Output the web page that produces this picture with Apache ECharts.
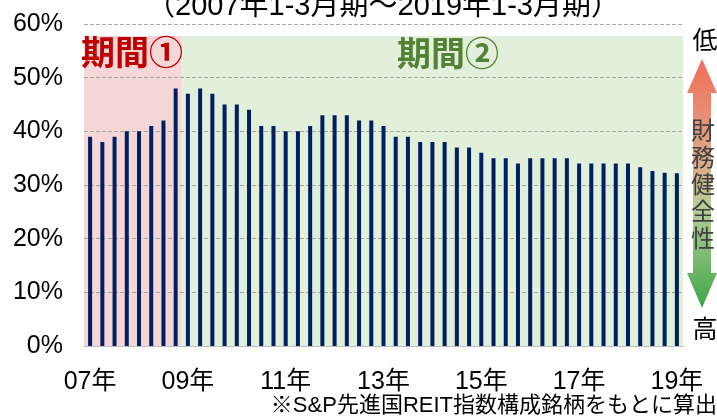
<!DOCTYPE html>
<html>
<head>
<meta charset="utf-8">
<script src="https://cdn.jsdelivr.net/npm/echarts@6/dist/echarts.min.js"></script>
<style>
  html, body { margin: 0; padding: 0; background: #fff; }
  #main { width: 717px; height: 416px; }
</style>
</head>
<body>
<div id="main"></div>
<script>
// 四半期（2007年1-3月期～2019年1-3月期）
var quarters = [
  '07/1Q','07/2Q','07/3Q','07/4Q','08/1Q','08/2Q','08/3Q','08/4Q',
  '09/1Q','09/2Q','09/3Q','09/4Q','10/1Q','10/2Q','10/3Q','10/4Q',
  '11/1Q','11/2Q','11/3Q','11/4Q','12/1Q','12/2Q','12/3Q','12/4Q',
  '13/1Q','13/2Q','13/3Q','13/4Q','14/1Q','14/2Q','14/3Q','14/4Q',
  '15/1Q','15/2Q','15/3Q','15/4Q','16/1Q','16/2Q','16/3Q','16/4Q',
  '17/1Q','17/2Q','17/3Q','17/4Q','18/1Q','18/2Q','18/3Q','18/4Q',
  '19/1Q'
];
// 負債比率（%）
var ratio = [
  39, 38, 39, 40, 40, 41, 42, 48,
  47, 48, 47, 45, 45, 44, 41, 41,
  40, 40, 41, 43, 43, 43, 42, 42,
  41, 39, 39, 38, 38, 38, 37, 37,
  36, 35, 35, 34, 35, 35, 35, 35,
  34, 34, 34, 34, 34, 33.3, 32.6, 32.3,
  32.2
];
var yearLabels = ['07年', '09年', '11年', '13年', '15年', '17年', '19年'];
var period1Quarters = 8; // 期間①: 07/1Q～08/4Q

var FONT = "'Liberation Sans', 'Noto Sans CJK JP', sans-serif";
var myChart = echarts.init(document.getElementById('main'));

var option = {
  animation: false,
  grid: { left: 84, right: 34, top: 24, bottom: 70 },
  xAxis: {
    type: 'category',
    data: quarters,
    boundaryGap: true,
    axisLine: { lineStyle: { color: '#bfbfbf' } },
    axisTick: { alignWithLabel: true, interval: 7, length: 6, lineStyle: { color: '#a6a6a6' } },
    axisLabel: {
      interval: 7,
      margin: 24,
      color: '#000',
      fontSize: 25,
      fontFamily: FONT,
      formatter: function (v, i) { return yearLabels[i / 8]; }
    }
  },
  yAxis: {
    type: 'value',
    min: 0,
    max: 60,
    interval: 10,
    axisLine: { show: false },
    axisTick: { show: false },
    axisLabel: { formatter: '{value}%', margin: 21, color: '#000', fontSize: 25, fontFamily: FONT },
    splitLine: { lineStyle: { color: '#a6a6a6', type: [4, 2], width: 1 } }
  },
  series: [{
    name: '負債比率',
    type: 'bar',
    data: ratio,
    barWidth: 4,
    itemStyle: { color: '#002060' },
    z: 3
  }]
};
myChart.setOption(option);

// 背景の期間エリア（軸から位置を算出）
var px0 = myChart.convertToPixel({ xAxisIndex: 0 }, 0);
var px1 = myChart.convertToPixel({ xAxisIndex: 0 }, 1);
var band = px1 - px0;
var xStart = px0 - band / 2;
var xSplit = myChart.convertToPixel({ xAxisIndex: 0 }, period1Quarters) - band / 2;
var xEnd = myChart.convertToPixel({ xAxisIndex: 0 }, quarters.length - 1) + band / 2;
var yBase = myChart.convertToPixel({ yAxisIndex: 0 }, 0);
var yTop = 36;

myChart.setOption({
  graphic: [
    { type: 'rect', z: -10, silent: true,
      shape: { x: xStart, y: yTop, width: xSplit - xStart, height: yBase - yTop },
      style: { fill: '#f6d7d7' } },
    { type: 'rect', z: -10, silent: true,
      shape: { x: xSplit, y: yTop, width: xEnd - xSplit, height: yBase - yTop },
      style: { fill: '#e2efda' } },
    { type: 'text', x: 383, y: 7,
      style: { text: '（2007年1-3月期～2019年1-3月期）', fill: '#000', font: '29px ' + FONT,
               textAlign: 'center', textVerticalAlign: 'middle' } },
    { type: 'text', x: 81, y: 56, z: 5,
      style: { text: '期間①', fill: '#c00000', font: 'bold 34px ' + FONT,
               textAlign: 'left', textVerticalAlign: 'middle' } },
    { type: 'text', x: 397, y: 57, z: 5,
      style: { text: '期間②', fill: '#538135', font: 'bold 34px ' + FONT,
               textAlign: 'left', textVerticalAlign: 'middle' } },
    { type: 'polygon', z: 5,
      shape: { points: [[702, 59], [717, 93], [711, 93], [711, 273], [717, 273], [702, 308],
                        [687, 273], [693, 273], [693, 93], [687, 93]] },
      style: { fill: new echarts.graphic.LinearGradient(0, 0, 0, 1, [
        { offset: 0, color: '#f26d5b' },
        { offset: 0.45, color: '#d9b08c' },
        { offset: 0.6, color: '#b5cf96' },
        { offset: 1, color: '#3fa648' }
      ]) } },
    { type: 'text', x: 705, y: 42, z: 6,
      style: { text: '低', fill: '#000', font: '25px ' + FONT, textAlign: 'center', textVerticalAlign: 'middle' } },
    { type: 'text', x: 705, y: 331, z: 6,
      style: { text: '高', fill: '#000', font: '25px ' + FONT, textAlign: 'center', textVerticalAlign: 'middle' } },
    { type: 'text', x: 703, y: 186, z: 6,
      style: { text: '財\n務\n健\n全\n性', fill: '#404040', font: '24px ' + FONT, lineHeight: 27,
               textAlign: 'center', textVerticalAlign: 'middle' } },
    { type: 'text', x: 717, y: 406,
      style: { text: '※S&P先進国REIT指数構成銘柄をもとに算出', fill: '#000', font: '22px ' + FONT,
               textAlign: 'right', textVerticalAlign: 'middle' } }
  ]
});
</script>
</body>
</html>
